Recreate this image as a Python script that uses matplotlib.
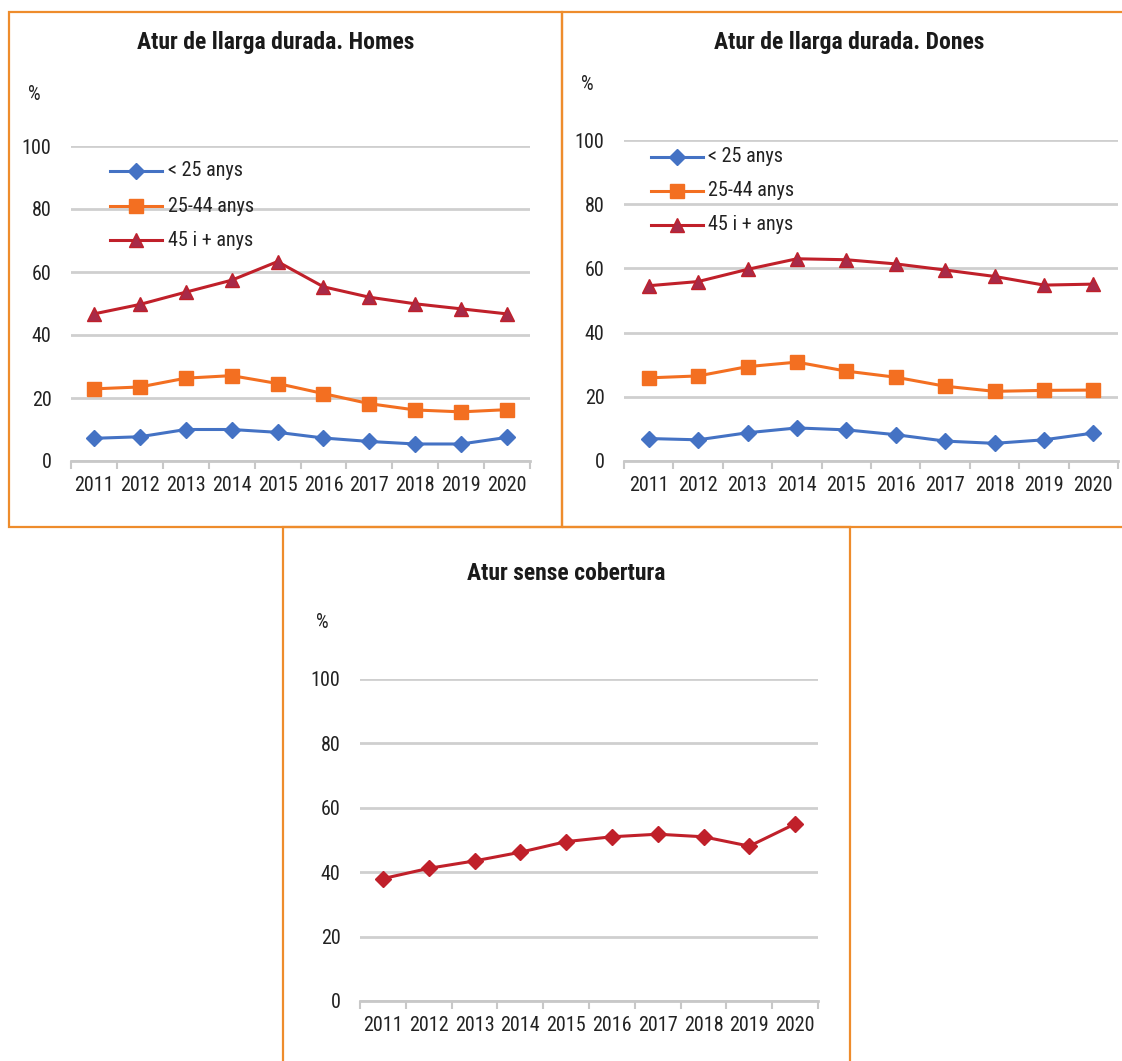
import matplotlib.pyplot as plt
from matplotlib.patches import Rectangle
from matplotlib.lines import Line2D

plt.rcParams['font.family'] = ['Roboto Condensed', 'Liberation Sans', 'DejaVu Sans']

anys = ['2011', '2012', '2013', '2014', '2015', '2016', '2017', '2018', '2019', '2020']
series_labels = ['< 25 anys', '25-44 anys', '45 i + anys']

# atur de llarga durada, homes
homes_menys25 = [7.2, 7.7, 10.0, 10.0, 9.1, 7.3, 6.2, 5.4, 5.4, 7.5]
homes_25_44 = [22.9, 23.5, 26.3, 27.1, 24.6, 21.4, 18.2, 16.2, 15.6, 16.3]
homes_45mes = [46.7, 49.7, 53.6, 57.4, 63.3, 55.3, 52.0, 49.9, 48.3, 46.7]

# atur de llarga durada, dones
dones_menys25 = [7.0, 6.6, 8.8, 10.3, 9.7, 8.2, 6.2, 5.5, 6.6, 8.7]
dones_25_44 = [25.9, 26.5, 29.4, 30.8, 28.0, 26.1, 23.3, 21.7, 22.0, 22.1]
dones_45mes = [54.6, 55.9, 59.7, 63.0, 62.7, 61.4, 59.5, 57.5, 54.8, 55.1]

# atur sense cobertura
sense_cobertura = [38.0, 41.2, 43.5, 46.2, 49.5, 51.0, 51.8, 51.0, 48.1, 55.0]

BLUE = '#4472C4'
ORANGE = '#F36F21'
RED = '#C0202A'
BORDER = '#EE8C2C'
GRID = '#CFCFCF'
TXT = '#222222'
FS = 14.5
TFS = 17

W, H = 1122, 1061
fig = plt.figure(figsize=(W / 100, H / 100), dpi=100)


def px_axes(x0, x1, ytop, ybot):
    # axes rect from pixel coords (y measured from the top)
    return fig.add_axes([x0 / W, 1 - ybot / H, (x1 - x0) / W, (ybot - ytop) / H])


def style_axes(ax):
    n = len(anys)
    ax.set_xlim(-0.5, n - 0.5)
    ax.set_ylim(0, 100)
    ax.set_yticks(range(0, 101, 20))
    ax.set_xticks(range(n))
    ax.set_xticklabels(anys)
    ax.set_xticks([i - 0.5 for i in range(n + 1)], minor=True)
    ax.tick_params(axis='x', which='major', length=0, pad=11, labelsize=FS, colors=TXT)
    ax.tick_params(axis='x', which='minor', length=6, width=1.5, color='#C8C8C8', direction='out')
    ax.tick_params(axis='y', length=0, pad=14, labelsize=FS, colors=TXT)
    for s in ['top', 'right', 'left']:
        ax.spines[s].set_visible(False)
    ax.spines['bottom'].set_color('#C8C8C8')
    ax.spines['bottom'].set_linewidth(2)
    ax.yaxis.grid(True, color=GRID, linewidth=2)
    ax.set_axisbelow(True)
    ax.patch.set_alpha(0)


def draw_three(ax, s1, s2, s3):
    x = range(len(anys))
    ax.plot(x, s1, color=BLUE, lw=2.2, marker='D', ms=8, mfc=BLUE, mec=BLUE, zorder=3)
    ax.plot(x, s2, color=ORANGE, lw=2.2, marker='s', ms=10, mfc=ORANGE, mec=ORANGE, zorder=3)
    ax.plot(x, s3, color=RED, lw=2.2, marker='^', ms=10, mfc='#A82A48', mec=RED, zorder=3)


def draw_legend(x0, x1, xt, rows):
    styles = [(BLUE, 'D', 8, BLUE), (ORANGE, 's', 10, ORANGE), (RED, '^', 10, '#A82A48')]
    for (c, m, ms, fc), label, yr in zip(styles, series_labels, rows):
        yf = 1 - yr / H
        fig.add_artist(Line2D([x0 / W, x1 / W], [yf, yf], color=c, lw=2.2, zorder=5))
        fig.add_artist(Line2D([(x0 + x1) / 2 / W], [yf], color=c, marker=m, ms=ms,
                              mfc=fc, mec=c, lw=0, zorder=6))
        fig.text(xt / W, yf, label, fontsize=FS, va='center', ha='left', color=TXT)


# panel borders
for (x0, y0, x1, y1) in [(9, 12, 562, 527), (562, 12, 1130, 527), (283, 527, 850, 1070)]:
    fig.add_artist(Rectangle((x0 / W, 1 - y1 / H), (x1 - x0) / W, (y1 - y0) / H,
                             fill=False, edgecolor=BORDER, lw=1.6, transform=fig.transFigure))

# Homes
ax1 = px_axes(71, 530, 146, 461)
style_axes(ax1)
draw_three(ax1, homes_menys25, homes_25_44, homes_45mes)
fig.text(276 / W, 1 - 43 / H, 'Atur de llarga durada. Homes', fontsize=TFS, fontweight='bold',
         ha='center', va='center', color='#1a1a1a')
fig.text(34 / W, 1 - 95 / H, '%', fontsize=FS, ha='center', va='center', color=TXT)
draw_legend(110, 162, 168, [171, 206, 240])

# Dones
ax2 = px_axes(624, 1118, 140, 461)
style_axes(ax2)
draw_three(ax2, dones_menys25, dones_25_44, dones_45mes)
fig.text(849 / W, 1 - 43 / H, 'Atur de llarga durada. Dones', fontsize=TFS, fontweight='bold',
         ha='center', va='center', color='#1a1a1a')
fig.text(587 / W, 1 - 84 / H, '%', fontsize=FS, ha='center', va='center', color=TXT)
draw_legend(651, 703, 708, [157, 191, 225])

# Sense cobertura
ax3 = px_axes(360, 818, 679, 1001)
style_axes(ax3)
ax3.plot(range(len(anys)), sense_cobertura, color=RED, lw=2.2, marker='D', ms=8,
         mfc=RED, mec=RED, zorder=3)
fig.text(566 / W, 1 - 573 / H, 'Atur sense cobertura', fontsize=TFS, fontweight='bold',
         ha='center', va='center', color='#1a1a1a')
fig.text(322 / W, 1 - 623 / H, '%', fontsize=FS, ha='center', va='center', color=TXT)

fig.savefig('out.png', dpi=100, facecolor='white')
